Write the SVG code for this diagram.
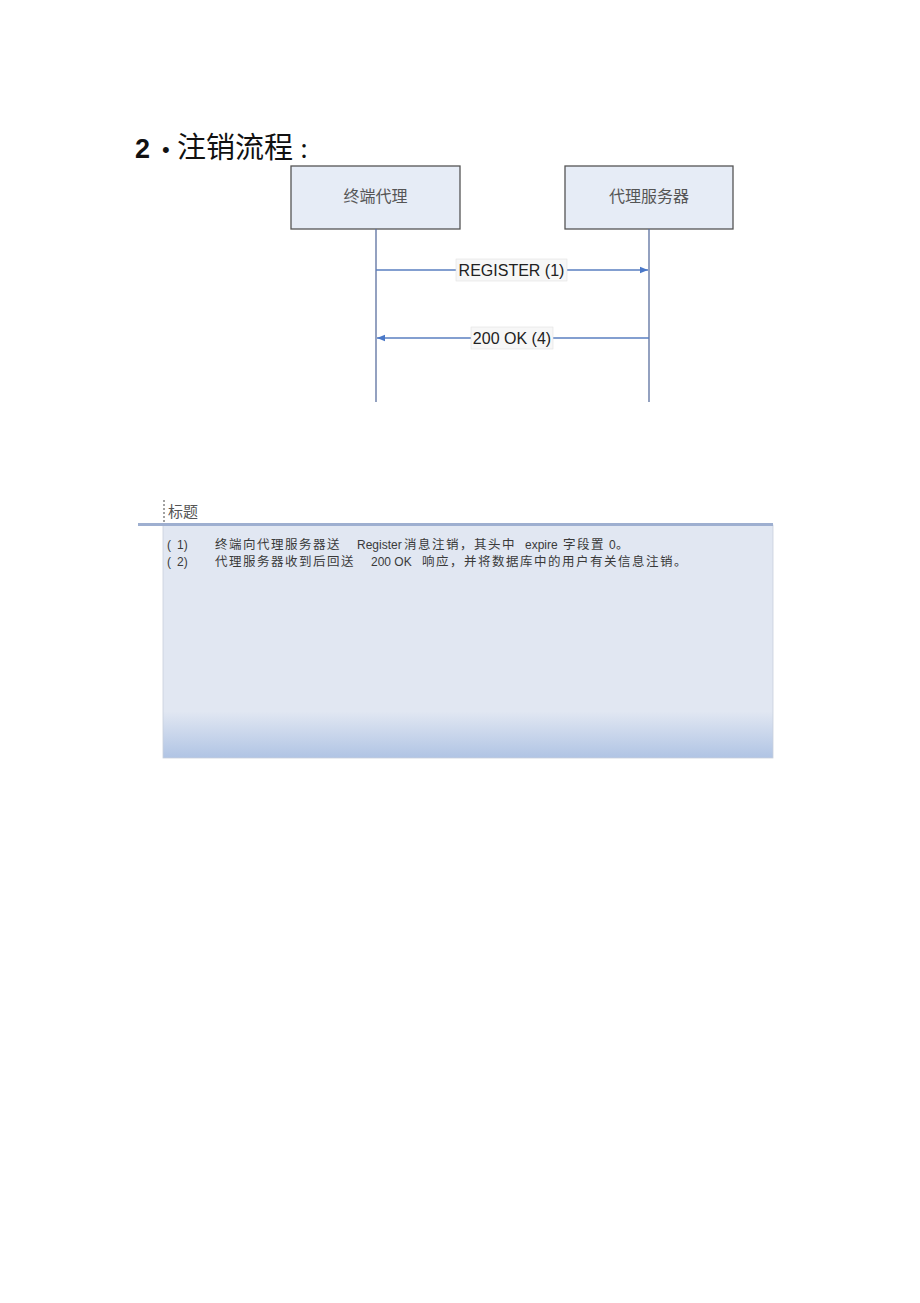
<svg xmlns="http://www.w3.org/2000/svg" width="920" height="1303" viewBox="0 0 920 1303">
<style>
.cjk{font-family:"Liberation Serif","Noto Sans CJK SC",serif;}
.lat{font-family:"Liberation Sans",Arial,sans-serif;}
.box{fill:#e6ecf6;stroke:#555;stroke-width:1.3;}
.life{stroke:#5a6f9e;stroke-width:1.3;fill:none;}
.msg{stroke:#5a7fc0;stroke-width:1.3;fill:none;}
.lbl{fill:#f7f7f7;stroke:#e2e2e2;stroke-width:0.6;}
.note{fill:#3a3a3a;}
.nc{font-family:"Liberation Serif","Noto Sans CJK SC",serif;font-size:12.5px;letter-spacing:1.5px;}
.nl{font-family:"Liberation Sans",Arial,sans-serif;font-size:12px;}
</style>
<defs>
<marker id="ah" viewBox="0 0 10 10" refX="10" refY="5" markerWidth="10" markerHeight="8" markerUnits="userSpaceOnUse" orient="auto">
<path d="M0,1 L10,5 L0,9 Z" fill="#4a78c8"/>
</marker>
<linearGradient id="pg" x1="0" y1="0" x2="0" y2="1">
<stop offset="0" stop-color="#e1e7f2"/>
<stop offset="0.8" stop-color="#e1e7f2"/>
<stop offset="1" stop-color="#b0c4e4"/>
</linearGradient>
</defs>
<rect width="920" height="1303" fill="#fff"/>
<g id="title">
<text x="135" y="158" class="lat" font-size="27" font-weight="bold" fill="#111">2</text>
<text x="162" y="157" class="lat" font-size="22" fill="#111">•</text>
<text x="177" y="158" class="cjk" font-size="29" fill="#111">注销流程</text>
<text x="300" y="158" class="cjk" font-size="29" fill="#111">:</text>
</g>
<g id="node-terminal">
<rect class="box" x="291" y="166" width="169" height="63"/>
<text x="375.5" y="202" text-anchor="middle" class="cjk" font-size="16" fill="#555">终端代理</text>
</g>
<g id="node-proxy">
<rect class="box" x="565" y="166" width="168" height="63"/>
<text x="649" y="202" text-anchor="middle" class="cjk" font-size="16" fill="#555">代理服务器</text>
</g>
<g id="connectors">
<line class="life" x1="376" y1="229" x2="376" y2="402"/>
<line class="life" x1="649" y1="229" x2="649" y2="402"/>
<line class="msg" x1="376" y1="270" x2="648" y2="270" marker-end="url(#ah)"/>
<rect class="lbl" x="456" y="259" width="111" height="22"/>
<text x="511.5" y="276" text-anchor="middle" class="lat" font-size="16" fill="#222">REGISTER (1)</text>
<line class="msg" x1="649" y1="338" x2="377" y2="338" marker-end="url(#ah)"/>
<rect class="lbl" x="471" y="327" width="82" height="22"/>
<text x="512" y="344" text-anchor="middle" class="lat" font-size="16" fill="#222">200 OK (4)</text>
</g>
<g id="caption">
<line x1="164" y1="500" x2="164" y2="525" stroke="#444" stroke-width="1" stroke-dasharray="2,2"/>
<text x="168" y="517" class="cjk" font-size="15" fill="#555">标题</text>
<rect x="163" y="525" width="610" height="233" fill="url(#pg)" stroke="#c8d0dc" stroke-width="0.8"/>
<line x1="138" y1="524.5" x2="773" y2="524.5" stroke="#9eafd0" stroke-width="3"/>
<text class="note" y="549"><tspan x="167" class="nl">(</tspan><tspan x="177" class="nl">1)</tspan><tspan x="215" class="nc">终端向代理服务器送</tspan><tspan x="357" class="nl">Register</tspan><tspan x="404" class="nc">消息注销，其头中</tspan><tspan x="525" class="nl">expire</tspan><tspan x="563" class="nc">字段置</tspan><tspan x="609" class="nl">0</tspan><tspan x="616" class="nc">。</tspan></text>
<text class="note" y="566"><tspan x="167" class="nl">(</tspan><tspan x="177" class="nl">2)</tspan><tspan x="215" class="nc">代理服务器收到后回送</tspan><tspan x="371" class="nl">200 OK</tspan><tspan x="422" class="nc">响应，并将数据库中的用户有关信息注销。</tspan></text>
</g>
</svg>
